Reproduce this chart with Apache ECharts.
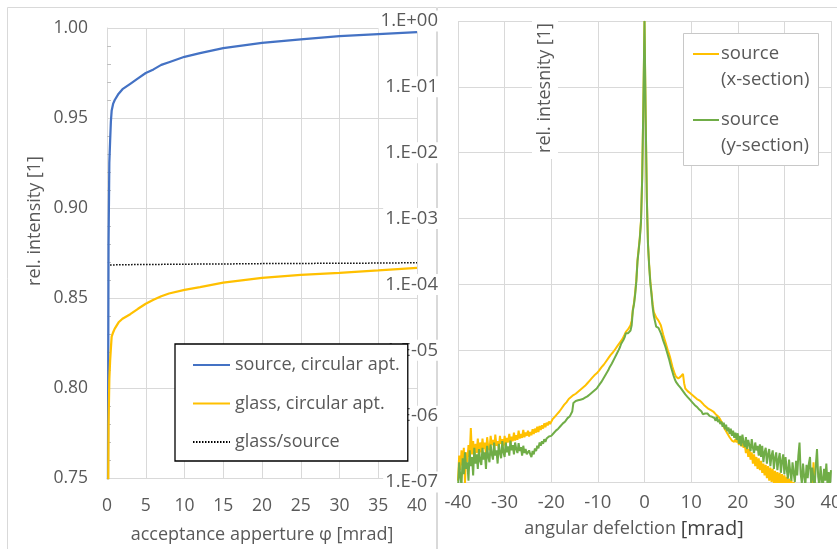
<!DOCTYPE html>
<html>
<head>
<meta charset="utf-8">
<script src="https://cdn.jsdelivr.net/npm/echarts@6/dist/echarts.min.js"></script>
<style>
  html, body { margin: 0; padding: 0; background: #ffffff; }
  #chart { width: 837px; height: 549px; }
</style>
</head>
<body>
<div id="chart"></div>
<script>
const FONT = '"Open Sans", "Noto Sans", "DejaVu Sans", sans-serif';
const TEXT = '#595959';
const GRID = '#d9d9d9';
const BLUE = '#4472C4';
const GOLD = '#FFC000';
const GREEN = '#70AD47';

// ---- left panel: transmitted fraction vs. acceptance aperture ----
const apertureMrad = [0.1, 0.15, 0.2, 0.3, 0.4, 0.5, 0.6, 0.8, 1, 1.5, 2, 3, 4, 5, 6, 7, 8, 10, 12, 15, 20, 25, 30, 35, 40];
const sourceCircular = [0.70, 0.80, 0.88, 0.925, 0.937, 0.948, 0.954, 0.958, 0.960, 0.9635, 0.966, 0.969, 0.972, 0.975, 0.977, 0.9795, 0.981, 0.984, 0.986, 0.9888, 0.9917, 0.9937, 0.9955, 0.9966, 0.9977];
const glassCircular = [0.70, 0.74, 0.78, 0.805, 0.815, 0.822, 0.8285, 0.831, 0.833, 0.8365, 0.8385, 0.841, 0.844, 0.8468, 0.849, 0.851, 0.8525, 0.8545, 0.856, 0.8585, 0.8612, 0.8628, 0.8640, 0.8653, 0.8668];
const ratioAperture = [0.4, 1, 2, 5, 10, 15, 20, 25, 30, 35, 40];
const ratioValues = [0.8683, 0.8684, 0.8685, 0.8686, 0.8688, 0.8689, 0.8691, 0.8692, 0.8693, 0.8694, 0.8696];
const leftLegend = ['source, circular apt.', 'glass, circular apt.', 'glass/source'];

// ---- right panel: angular profile, sampled every 0.25 mrad from -40 to 40 ----
const ANGLE_START = -40;
const ANGLE_STEP = 0.25;
// decadic log of the relative intensity, x-section (one row = 5 mrad)
const xSectionLog = [
  -6.98,-6.60,-6.82,-6.52,-6.75,-6.48,-7.02,-6.55,-6.70,-6.44,-6.62,-6.18,-6.58,-6.38,-6.66,-6.42,-6.56,-6.34,-6.60,-6.40,
  -6.55,-6.34,-6.50,-6.40,-6.58,-6.32,-6.47,-6.52,-6.30,-6.44,-6.36,-6.50,-6.28,-6.45,-6.38,-6.49,-6.30,-6.42,-6.35,-6.46,
  -6.30,-6.44,-6.33,-6.40,-6.27,-6.42,-6.31,-6.38,-6.25,-6.37,-6.29,-6.36,-6.22,-6.34,-6.27,-6.33,-6.21,-6.32,-6.25,-6.30,
  -6.22,-6.31,-6.24,-6.29,-6.20,-6.27,-6.19,-6.25,-6.16,-6.24,-6.15,-6.21,-6.14,-6.19,-6.11,-6.17,-6.10,-6.14,-6.08,-6.12,
  -6.09,-6.05,-6.06,-6.01,-6.02,-5.97,-5.97,-5.93,-5.93,-5.88,-5.87,-5.83,-5.83,-5.79,-5.77,-5.74,-5.73,-5.71,-5.70,-5.68,
  -5.67,-5.66,-5.64,-5.63,-5.62,-5.60,-5.59,-5.57,-5.56,-5.54,-5.52,-5.50,-5.48,-5.46,-5.44,-5.42,-5.40,-5.38,-5.37,-5.35,
  -5.33,-5.31,-5.28,-5.26,-5.24,-5.22,-5.19,-5.17,-5.15,-5.12,-5.10,-5.07,-5.05,-5.03,-5.00,-4.98,-4.96,-4.93,-4.91,-4.88,
  -4.86,-4.83,-4.80,-4.76,-4.72,-4.70,-4.68,-4.65,-4.62,-4.55,-4.38,-4.28,-4.12,-3.93,-3.63,-3.46,-3.28,-3.03,-2.38,-1.28,
  0.00,-1.43,-2.68,-3.38,-3.70,-3.95,-4.12,-4.30,-4.42,-4.46,-4.50,-4.53,-4.55,-4.58,-4.62,-4.69,-4.76,-4.82,-4.88,-4.94,
  -5.00,-5.05,-5.11,-5.18,-5.25,-5.31,-5.36,-5.40,-5.42,-5.43,-5.43,-5.40,-5.37,-5.36,-5.50,-5.58,-5.60,-5.62,-5.64,-5.65,
  -5.66,-5.68,-5.69,-5.71,-5.72,-5.74,-5.75,-5.76,-5.78,-5.79,-5.81,-5.83,-5.85,-5.86,-5.88,-5.89,-5.90,-5.91,-5.92,-5.93,
  -5.94,-5.97,-5.94,-6.00,-5.99,-6.05,-6.05,-6.12,-6.12,-6.20,-6.20,-6.26,-6.27,-6.32,-6.32,-6.37,-6.35,-6.39,-6.35,-6.40,
  -6.34,-6.44,-6.36,-6.46,-6.38,-6.48,-6.42,-6.56,-6.46,-6.62,-6.50,-6.66,-6.55,-6.72,-6.58,-6.76,-6.62,-6.80,-6.64,-6.82,
  -6.68,-6.86,-6.72,-6.90,-6.74,-6.94,-6.76,-6.98,-6.78,-7.00,-6.80,-7.02,-6.83,-7.05,-6.85,-7.06,-6.86,-7.08,-6.88,-7.10,
  -6.90,-7.10,-6.92,-7.12,-6.95,-7.15,-6.97,-7.18,-7.00,-7.20,-7.04,-7.24,-7.08,-7.25,-7.12,-7.28,-7.20,-7.30,-7.25,-7.30,
  -7.25,-7.30,-7.20,-7.30,-7.10,-6.70,-7.05,-7.30,-7.25,-7.30,-7.20,-7.30,-7.25,-7.30,-7.20,-7.30,-7.25,-7.30,-7.20,-7.30,
  -7.25
];
// decadic log of the relative intensity, y-section (one row = 5 mrad)
const ySectionLog = [
  -7.10,-6.70,-6.92,-7.05,-6.64,-6.88,-6.55,-6.80,-6.70,-6.98,-6.52,-6.76,-6.62,-6.90,-6.48,-6.72,-6.58,-6.80,-6.50,-6.68,
  -6.74,-6.48,-6.66,-6.55,-6.80,-6.45,-6.62,-6.70,-6.43,-6.58,-6.66,-6.40,-6.60,-6.52,-6.72,-6.42,-6.56,-6.64,-6.38,-6.55,
  -6.62,-6.40,-6.55,-6.46,-6.60,-6.37,-6.52,-6.44,-6.58,-6.40,-6.50,-6.56,-6.41,-6.53,-6.47,-6.60,-6.45,-6.56,-6.50,-6.58,
  -6.60,-6.52,-6.58,-6.62,-6.53,-6.58,-6.49,-6.53,-6.45,-6.49,-6.40,-6.45,-6.38,-6.42,-6.35,-6.39,-6.34,-6.37,-6.31,-6.34,
  -6.30,-6.28,-6.26,-6.25,-6.22,-6.21,-6.19,-6.18,-6.15,-6.14,-6.11,-6.10,-6.08,-6.06,-6.03,-6.02,-6.00,-5.98,-5.93,-5.80,
  -5.78,-5.77,-5.78,-5.76,-5.77,-5.75,-5.76,-5.74,-5.74,-5.72,-5.72,-5.70,-5.69,-5.67,-5.66,-5.64,-5.63,-5.61,-5.60,-5.58,
  -5.56,-5.53,-5.50,-5.48,-5.45,-5.42,-5.39,-5.36,-5.33,-5.30,-5.26,-5.23,-5.20,-5.17,-5.13,-5.10,-5.06,-5.03,-4.99,-4.95,
  -4.90,-4.87,-4.84,-4.80,-4.74,-4.72,-4.74,-4.76,-4.70,-4.62,-4.40,-4.30,-4.15,-3.95,-3.65,-3.48,-3.30,-3.05,-2.40,-1.30,
  0.00,-1.45,-2.70,-3.40,-3.72,-3.98,-4.15,-4.35,-4.48,-4.56,-4.64,-4.63,-4.66,-4.69,-4.74,-4.79,-4.85,-4.90,-4.95,-5.01,
  -5.07,-5.13,-5.20,-5.27,-5.33,-5.39,-5.44,-5.48,-5.51,-5.53,-5.55,-5.57,-5.60,-5.62,-5.65,-5.67,-5.70,-5.71,-5.73,-5.75,
  -5.77,-5.79,-5.81,-5.83,-5.85,-5.86,-5.88,-5.90,-5.92,-5.93,-5.97,-5.94,-5.96,-5.98,-5.96,-5.99,-6.00,-5.98,-6.01,-6.02,
  -6.03,-6.07,-6.01,-6.09,-6.05,-6.12,-6.08,-6.16,-6.10,-6.20,-6.13,-6.23,-6.17,-6.27,-6.19,-6.30,-6.22,-6.33,-6.25,-6.36,
  -6.26,-6.42,-6.30,-6.45,-6.28,-6.40,-6.47,-6.32,-6.50,-6.36,-6.44,-6.53,-6.35,-6.48,-6.56,-6.40,-6.52,-6.45,-6.60,-6.43,
  -6.62,-6.45,-6.70,-6.55,-6.48,-6.72,-6.58,-6.50,-6.76,-6.60,-6.52,-6.80,-6.63,-6.55,-6.82,-6.66,-6.56,-6.86,-6.68,-6.58,
  -6.88,-6.62,-6.80,-6.95,-6.66,-6.84,-6.98,-6.70,-6.86,-7.00,-6.68,-6.90,-6.60,-6.40,-6.88,-7.02,-6.72,-6.92,-7.05,-6.74,
  -6.94,-6.72,-6.62,-7.05,-6.78,-6.96,-7.08,-6.74,-6.50,-6.92,-7.06,-6.76,-6.95,-7.10,-6.80,-6.98,-6.72,-7.04,-6.85,-7.08,
  -6.82
];
const decadeLabels = ['1.E-07', '1.E-06', '1.E-05', '1.E-04', '1.E-03', '1.E-02', '1.E-01', '1.E+00'];

const pairs = (xs, ys) => xs.map((x, i) => [x, ys[i]]);
const profile = (logs) => logs.map((e, i) => [ANGLE_START + i * ANGLE_STEP, Math.pow(10, e)]);

const label = (size, extra) => Object.assign({ color: TEXT, fontSize: size, fontFamily: FONT }, extra);

const chart = echarts.init(document.getElementById('chart'), null, { renderer: 'canvas' });

chart.setOption({
  animation: false,
  backgroundColor: '#ffffff',
  textStyle: { fontFamily: FONT },
  grid: [
    { left: 107, top: 28, width: 310, height: 450, containLabel: false, outerBoundsMode: 'none' },
    { left: 458, top: 21, width: 373, height: 461, containLabel: false, outerBoundsMode: 'none' }
  ],
  xAxis: [
    {
      gridIndex: 0, type: 'value', min: 0, max: 40, interval: 5,
      axisLine: { show: true, onZero: false, lineStyle: { color: GRID, width: 1 } },
      axisTick: { show: false },
      axisLabel: label(17.5, { margin: 19 }),
      splitLine: { show: true, lineStyle: { color: GRID, width: 1 } }
    },
    {
      gridIndex: 1, type: 'value', min: -40, max: 40, interval: 10,
      axisLine: { show: true, onZero: false, lineStyle: { color: GRID, width: 1 } },
      axisTick: { show: false },
      axisLabel: label(18.5, { margin: 11 }),
      splitLine: { show: true, lineStyle: { color: GRID, width: 1 } }
    }
  ],
  yAxis: [
    {
      gridIndex: 0, type: 'value', min: 0.75, max: 1.0, interval: 0.05,
      axisLine: { show: true, onZero: false, lineStyle: { color: GRID, width: 1 } },
      axisTick: { show: false, inside: true },
      minorTick: { show: true, splitNumber: 5, length: 4, lineStyle: { color: '#bfbfbf', width: 1 } },
      axisLabel: label(17.5, { margin: 19, formatter: (v) => v.toFixed(2) }),
      splitLine: { show: true, lineStyle: { color: GRID, width: 1 } }
    },
    {
      gridIndex: 1, type: 'log', logBase: 10, min: 1e-7, max: 1,
      axisLine: { show: true, onZero: true, lineStyle: { color: GRID, width: 1 } },
      axisTick: { show: false },
      axisLabel: label(18.5, {
        margin: 18, backgroundColor: '#ffffff', padding: [1, 2, 1, 2],
        formatter: (v) => decadeLabels[Math.round(Math.log10(v)) + 7]
      }),
      splitLine: { show: true, lineStyle: { color: GRID, width: 1 } }
    }
  ],
  legend: {
    data: leftLegend,
    orient: 'vertical', left: 175, top: 344,
    padding: [12, 8, 10, 17],
    itemWidth: 37, itemHeight: 18, itemGap: 20.5,
    itemStyle: { opacity: 0 },
    borderColor: '#000000', borderWidth: 1.3, backgroundColor: '#ffffff',
    textStyle: { color: TEXT, fontSize: 18, fontFamily: FONT, lineHeight: 18 }
  },
  series: [
    {
      name: leftLegend[0], type: 'line', xAxisIndex: 0, yAxisIndex: 0,
      data: pairs(apertureMrad, sourceCircular), symbol: 'none', clip: true,
      lineStyle: { color: BLUE, width: 2.25 }, itemStyle: { color: BLUE }
    },
    {
      name: leftLegend[1], type: 'line', xAxisIndex: 0, yAxisIndex: 0,
      data: pairs(apertureMrad, glassCircular), symbol: 'none', clip: true,
      lineStyle: { color: GOLD, width: 2.25 }, itemStyle: { color: GOLD }
    },
    {
      name: leftLegend[2], type: 'line', xAxisIndex: 0, yAxisIndex: 0,
      data: pairs(ratioAperture, ratioValues), symbol: 'none', clip: true,
      lineStyle: { color: '#000000', width: 1.5, type: [1.5, 1.5] }, itemStyle: { color: '#000000' }
    },
    {
      name: 'source (x-section)', type: 'line', xAxisIndex: 1, yAxisIndex: 1,
      data: profile(xSectionLog), symbol: 'none', clip: true, sampling: null,
      lineStyle: { color: GOLD, width: 2 }, itemStyle: { color: GOLD }
    },
    {
      name: 'source (y-section)', type: 'line', xAxisIndex: 1, yAxisIndex: 1,
      data: profile(ySectionLog), symbol: 'none', clip: true, sampling: null,
      lineStyle: { color: GREEN, width: 2 }, itemStyle: { color: GREEN }
    }
  ],
  graphic: [
    // panel frames
    { type: 'rect', silent: true, z: 0, shape: { x: 7.5, y: 7.5, width: 429, height: 600 },
      style: { fill: 'none', stroke: GRID, lineWidth: 1 } },
    { type: 'rect', silent: true, z: 0, shape: { x: 437.5, y: 7.5, width: 420, height: 600 },
      style: { fill: 'none', stroke: GRID, lineWidth: 1 } },
    // axis titles
    { type: 'text', x: 35, y: 221, rotation: Math.PI / 2, z: 50,
      style: { text: 'rel. intensity [1]', fontSize: 18, fontFamily: FONT, fill: TEXT, align: 'center', verticalAlign: 'middle' } },
    { type: 'text', x: 262, y: 535, z: 50,
      style: { text: 'acceptance apperture φ [mrad]', fontSize: 18, fontFamily: FONT, fill: TEXT, align: 'center', verticalAlign: 'middle' } },
    { type: 'text', x: 545, y: 88, rotation: Math.PI / 2, z: 50,
      style: { text: 'rel. intesnity [1]', fontSize: 18, fontFamily: FONT, fill: TEXT, align: 'center', verticalAlign: 'middle',
               backgroundColor: '#ffffff', padding: [4, 6, 4, 6] } },
    { type: 'text', x: 634, y: 529, z: 50,
      style: { text: '{a|angular defelction }{b|[mrad]}', align: 'center', verticalAlign: 'middle',
               rich: { a: { fontSize: 18, fontFamily: FONT, fill: TEXT }, b: { fontSize: 20, fontFamily: FONT, fill: '#404040' } } } },
    // legend of the angular profile
    { type: 'rect', z: 60, shape: { x: 683.5, y: 33.5, width: 135, height: 132 },
      style: { fill: '#ffffff', stroke: '#c8c8c8', lineWidth: 1 } },
    { type: 'line', z: 61, shape: { x1: 693, y1: 54, x2: 719, y2: 54 }, style: { stroke: GOLD, lineWidth: 2 } },
    { type: 'text', x: 721, y: 54, z: 61,
      style: { text: 'source', fontSize: 18.5, fontFamily: FONT, fill: TEXT, align: 'left', verticalAlign: 'middle' } },
    { type: 'text', x: 721, y: 80, z: 61,
      style: { text: '(x-section)', fontSize: 18.5, fontFamily: FONT, fill: TEXT, align: 'left', verticalAlign: 'middle' } },
    { type: 'line', z: 61, shape: { x1: 693, y1: 120, x2: 719, y2: 120 }, style: { stroke: GREEN, lineWidth: 2 } },
    { type: 'text', x: 721, y: 120, z: 61,
      style: { text: 'source', fontSize: 18.5, fontFamily: FONT, fill: TEXT, align: 'left', verticalAlign: 'middle' } },
    { type: 'text', x: 721, y: 146, z: 61,
      style: { text: '(y-section)', fontSize: 18.5, fontFamily: FONT, fill: TEXT, align: 'left', verticalAlign: 'middle' } }
  ]
});
</script>
</body>
</html>
